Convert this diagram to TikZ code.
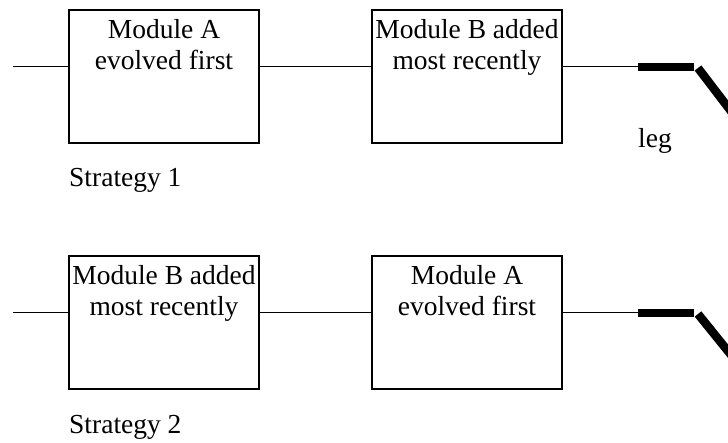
\documentclass[tikz,border=0pt]{standalone}
\usepackage{fontspec}
\setmainfont{Liberation Serif}
\usetikzlibrary{positioning}
\tikzset{
    modulebox/.style={
        draw=black,
        line width=1.8pt,
        minimum width=190pt,
        minimum height=133pt,
        inner sep=0pt
    },
    moduletext/.style={
        anchor=north,
        align=center,
        inner sep=0pt,
        yshift=-10pt,
        font=\fontsize{27.5}{31}\selectfont
    },
    captiontext/.style={
        anchor=base west,
        inner sep=0pt,
        font=\fontsize{27.5}{31}\selectfont
    },
    wire/.style={
        draw=black,
        line width=1pt
    },
    legline/.style={
        draw=black,
        line width=8.5pt,
        line cap=butt
    }
}

\begin{document}
\begin{tikzpicture}[x=1pt,y=1pt]
    \useasboundingbox (0,0) rectangle (728,442);
    \clip (0,0) rectangle (728,442);

    % Strategy 1
    \coordinate (inone) at (13,375);
    \coordinate (legone) at (638,375);
    \coordinate (kneeone) at (694,375);
    \node[modulebox] (aone) at (164,365.5) {};
    \node[moduletext] (aonetext) at (aone.north) {Module A\\evolved first};
    \node[modulebox] (bone) at (467,365.5) {};
    \node[moduletext] (bonetext) at (bone.north) {Module B added\\most recently};
    \node[captiontext] (stratone) at (69,255) {Strategy 1};
    \node[captiontext] (leglabel) at (638,294) {leg};

    \draw[wire] (inone) -- (aone.west |- inone);
    \draw[wire] (aone.east |- inone) -- (bone.west |- inone);
    \draw[wire] (bone.east |- inone) -- (legone);
    \draw[legline] (legone) -- (kneeone);
    \draw[legline] ([xshift=4pt,yshift=-1pt]kneeone) -- (740,319);

    % Strategy 2
    \coordinate (intwo) at (13,129);
    \coordinate (legtwo) at (638,129);
    \coordinate (kneetwo) at (694,129);
    \node[modulebox] (btwo) at (164,119.5) {};
    \node[moduletext] (btwotext) at (btwo.north) {Module B added\\most recently};
    \node[modulebox] (atwo) at (467,119.5) {};
    \node[moduletext] (atwotext) at (atwo.north) {Module A\\evolved first};
    \node[captiontext] (strattwo) at (69,9) {Strategy 2};

    \draw[wire] (intwo) -- (btwo.west |- intwo);
    \draw[wire] (btwo.east |- intwo) -- (atwo.west |- intwo);
    \draw[wire] (atwo.east |- intwo) -- (legtwo);
    \draw[legline] (legtwo) -- (kneetwo);
    \draw[legline] ([xshift=4pt,yshift=-1pt]kneetwo) -- (740,76);
\end{tikzpicture}
\end{document}
